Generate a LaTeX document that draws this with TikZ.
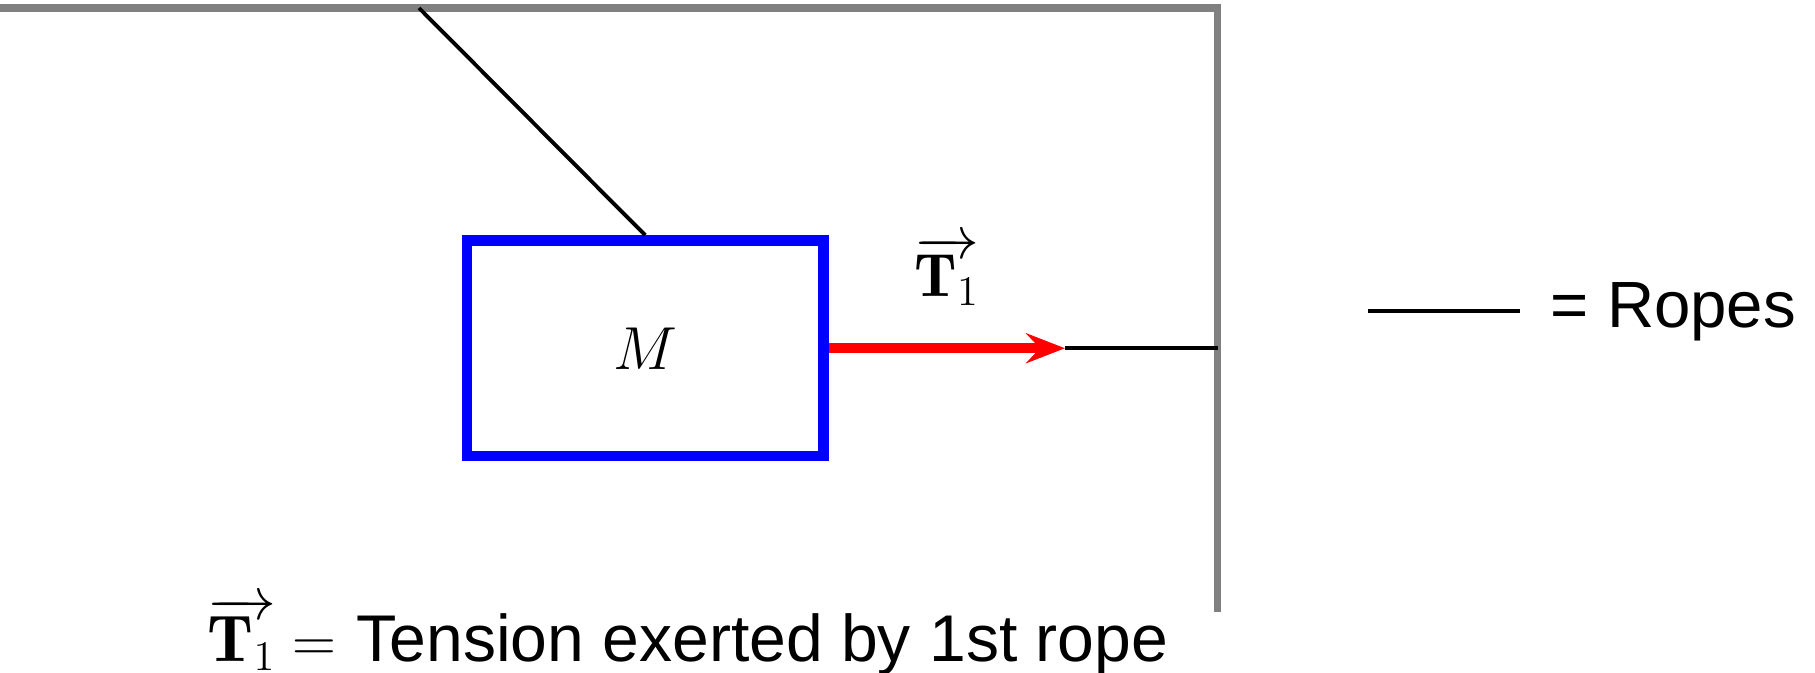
\documentclass[tikz,border=0pt]{standalone}
\usepackage{fontspec}
\setsansfont{Liberation Sans}
\usetikzlibrary{arrows.meta,positioning}

\begin{document}
\begin{tikzpicture}[scale=1,
  wall/.style={draw=gray,line width=2pt,line join=miter},
  rope/.style={draw=black,line width=1.1pt},
  pull/.style={draw=red,line width=2.85pt,-{Stealth[length=0.39cm,width=0.30cm,inset=0.14cm]}},
  mass/.style={draw=blue,line width=3pt,inner sep=0pt,minimum width=3.565cm,minimum height=2.155cm}]

\useasboundingbox (0,0) rectangle (18.15,6.72);

\coordinate (ceiling-left) at (0,6.64);
\coordinate (ceiling-corner) at (12.175,6.64);
\coordinate (wall-bottom) at (12.175,0.60);
\coordinate (ceiling-hook) at (4.19,6.64);
\coordinate (wall-hook) at (12.175,3.2375);
\coordinate (rope-knot) at (10.65,3.2375);
\coordinate (legend-left) at (13.68,3.61);
\coordinate (legend-right) at (15.20,3.61);

\node [mass, font=\fontsize{18.8pt}{22pt}\selectfont] (box) at (6.4525,3.2375) {$M$};

\draw [wall] (ceiling-left) -- (ceiling-corner) -- (wall-bottom);
\draw [rope] (ceiling-hook) -- (box.north);
\draw [pull] (box.east) -- (rope-knot);
\draw [rope] (rope-knot) -- (wall-hook);
\draw [rope] (legend-left) -- (legend-right);

\node [font=\fontsize{17.4pt}{21pt}\selectfont] (pull-label) at (9.47,4.01) {$\overrightarrow{\mathbf{T}{}_1}$};
\node [anchor=base west, inner sep=0pt, font=\fontsize{18.6pt}{22pt}\selectfont\sffamily] (legend-text) at (15.50,3.45) {= Ropes};
\node [anchor=base west, inner sep=0pt, font=\fontsize{18.8pt}{23pt}\selectfont] (caption) at (2.07,0.11) {$\overrightarrow{\mathbf{T}{}_1} =$ \textsf{Tension exerted by 1st rope}};

\end{tikzpicture}
\end{document}
